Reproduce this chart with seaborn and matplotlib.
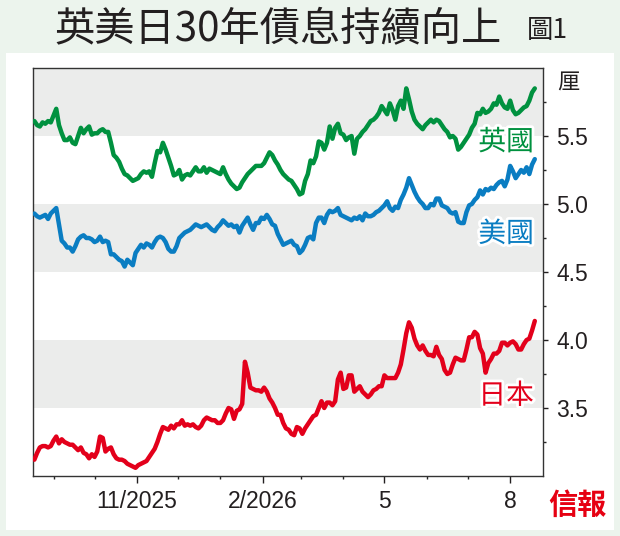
import matplotlib
matplotlib.use("Agg")
import matplotlib.pyplot as plt
import matplotlib.dates as mdates
import matplotlib.patheffects as pe
from matplotlib.patches import Rectangle
import seaborn as sns
import pandas as pd

# 30年期國債孳息 (厘), 每兩日一點, 2025-08-18 起
start_date = "2025-08-18"
uk_yield = [
    5.61, 5.58, 5.57, 5.60, 5.59, 5.61, 5.60, 5.65, 5.70, 5.58,
    5.52, 5.47, 5.47, 5.49, 5.45, 5.44, 5.50, 5.56, 5.52, 5.55,
    5.57, 5.51, 5.52, 5.52, 5.54, 5.55, 5.53, 5.53, 5.45, 5.36,
    5.34, 5.31, 5.26, 5.22, 5.21, 5.19, 5.17, 5.18, 5.19, 5.22,
    5.24, 5.23, 5.24, 5.20, 5.30, 5.39, 5.38, 5.45, 5.40, 5.34,
    5.28, 5.21, 5.22, 5.25, 5.18, 5.21, 5.22, 5.21, 5.24, 5.27,
    5.24, 5.24, 5.27, 5.23, 5.26, 5.25, 5.24, 5.23, 5.22, 5.27,
    5.22, 5.18, 5.15, 5.13, 5.11, 5.12, 5.16, 5.19, 5.22, 5.24,
    5.26, 5.28, 5.28, 5.28, 5.30, 5.34, 5.38, 5.36, 5.32, 5.29,
    5.25, 5.22, 5.20, 5.18, 5.17, 5.14, 5.11, 5.07, 5.08, 5.17,
    5.22, 5.32, 5.30, 5.35, 5.46, 5.45, 5.40, 5.45, 5.57, 5.48,
    5.56, 5.59, 5.52, 5.51, 5.47, 5.49, 5.50, 5.37, 5.48, 5.50,
    5.53, 5.55, 5.58, 5.61, 5.62, 5.64, 5.67, 5.72, 5.69, 5.66,
    5.74, 5.69, 5.62, 5.72, 5.76, 5.70, 5.85, 5.77, 5.68, 5.62,
    5.59, 5.57, 5.55, 5.58, 5.60, 5.62, 5.60, 5.62, 5.61, 5.58,
    5.55, 5.53, 5.49, 5.50, 5.48, 5.40, 5.42, 5.45, 5.48, 5.51,
    5.56, 5.59, 5.67, 5.66, 5.70, 5.67, 5.68, 5.70, 5.74, 5.73,
    5.79, 5.74, 5.71, 5.70, 5.76, 5.69, 5.66, 5.67, 5.69, 5.71,
    5.72, 5.76, 5.82, 5.85,
]
us_yield = [
    4.93, 4.91, 4.90, 4.91, 4.92, 4.89, 4.93, 4.95, 4.97, 4.85,
    4.73, 4.71, 4.68, 4.68, 4.65, 4.69, 4.74, 4.76, 4.77, 4.75,
    4.75, 4.74, 4.72, 4.73, 4.76, 4.72, 4.73, 4.72, 4.63, 4.63,
    4.61, 4.59, 4.58, 4.54, 4.59, 4.57, 4.55, 4.64, 4.67, 4.70,
    4.68, 4.71, 4.70, 4.68, 4.72, 4.75, 4.76, 4.75, 4.72, 4.67,
    4.65, 4.65, 4.69, 4.75, 4.77, 4.79, 4.80, 4.81, 4.83, 4.85,
    4.84, 4.83, 4.84, 4.85, 4.83, 4.81, 4.80, 4.83, 4.85, 4.88,
    4.86, 4.84, 4.85, 4.83, 4.84, 4.79, 4.84, 4.87, 4.90, 4.85,
    4.81, 4.86, 4.86, 4.90, 4.89, 4.92, 4.89, 4.85, 4.84, 4.78,
    4.74, 4.70, 4.71, 4.72, 4.73, 4.70, 4.69, 4.64, 4.66, 4.70,
    4.75, 4.76, 4.74, 4.86, 4.90, 4.90, 4.86, 4.92, 4.95, 4.94,
    4.95, 4.97, 4.92, 4.91, 4.90, 4.89, 4.88, 4.90, 4.89, 4.91,
    4.88, 4.93, 4.91, 4.91, 4.92, 4.94, 4.95, 4.97, 4.99, 5.02,
    4.97, 4.95, 4.98, 4.97, 5.03, 5.07, 5.12, 5.19, 5.14, 5.09,
    5.05, 5.02, 5.00, 4.97, 4.97, 5.00, 4.99, 5.04, 5.04, 4.99,
    4.98, 4.97, 4.94, 4.93, 4.94, 4.87, 4.86, 4.86, 4.94, 4.99,
    5.00, 5.03, 5.05, 5.10, 5.07, 5.11, 5.10, 5.12, 5.11, 5.14,
    5.16, 5.17, 5.13, 5.18, 5.28, 5.24, 5.19, 5.22, 5.25, 5.23,
    5.27, 5.22, 5.29, 5.33,
]
jp_yield = [
    3.12, 3.17, 3.21, 3.22, 3.22, 3.21, 3.22, 3.26, 3.29, 3.24,
    3.27, 3.25, 3.24, 3.23, 3.23, 3.21, 3.19, 3.21, 3.17, 3.16,
    3.13, 3.16, 3.14, 3.18, 3.29, 3.28, 3.18, 3.20, 3.21, 3.16,
    3.13, 3.12, 3.12, 3.11, 3.09, 3.08, 3.07, 3.06, 3.08, 3.09,
    3.10, 3.11, 3.14, 3.17, 3.20, 3.25, 3.31, 3.36, 3.35, 3.34,
    3.37, 3.35, 3.38, 3.38, 3.41, 3.37, 3.38, 3.37, 3.38, 3.36,
    3.35, 3.37, 3.41, 3.43, 3.42, 3.41, 3.41, 3.39, 3.39, 3.41,
    3.46, 3.50, 3.49, 3.42, 3.48, 3.49, 3.53, 3.84, 3.76, 3.65,
    3.64, 3.63, 3.63, 3.62, 3.65, 3.62, 3.57, 3.54, 3.50, 3.45,
    3.45, 3.39, 3.35, 3.34, 3.31, 3.30, 3.36, 3.35, 3.31, 3.35,
    3.38, 3.41, 3.44, 3.45, 3.50, 3.55, 3.50, 3.54, 3.54, 3.52,
    3.55, 3.71, 3.76, 3.64, 3.65, 3.74, 3.74, 3.62, 3.64, 3.66,
    3.62, 3.60, 3.58, 3.60, 3.63, 3.64, 3.66, 3.66, 3.74, 3.72,
    3.72, 3.72, 3.72, 3.76, 3.82, 3.93, 4.05, 4.13, 4.09, 4.01,
    3.96, 3.93, 3.96, 3.92, 3.89, 3.89, 3.88, 3.95, 3.89, 3.86,
    3.78, 3.75, 3.76, 3.82, 3.87, 3.86, 3.85, 3.85, 3.93, 4.02,
    4.02, 4.06, 4.04, 3.94, 3.90, 3.76, 3.83, 3.86, 3.90, 3.90,
    3.92, 3.98, 3.98, 3.96, 3.98, 3.99, 3.97, 3.93, 3.93, 3.97,
    4.00, 4.01, 4.07, 4.14,
]

countries = ["英國", "美國", "日本"]
colors = {"英國": "#00913f", "美國": "#0a7dc2", "日本": "#e3001b"}
label_pos = [("2026-07-29", 5.455), ("2026-07-29", 4.78), ("2026-07-29", 3.59)]

y_ticks = [3.5, 4.0, 4.5, 5.0, 5.5]
y_minor = [3.25, 3.75, 4.25, 4.75, 5.25, 5.75]
bands = [(3.5, 4.0), (4.5, 5.0), (5.5, 6.0)]
x_tick_dates = ["2025-11-01", "2026-02-01", "2026-05-01", "2026-08-01"]
x_tick_labels = ["11/2025", "2/2026", "5", "8"]

dates = pd.date_range(start_date, periods=len(uk_yield), freq="2D")
df = pd.concat([
    pd.DataFrame({"date": dates, "yield": vals, "country": c})
    for c, vals in zip(countries, [uk_yield, us_yield, jp_yield])
])

sns.set_theme(style="white")
cjk = ["Noto Sans CJK TC", "DejaVu Sans"]
plt.rcParams["font.family"] = ["Liberation Sans", "DejaVu Sans"]
dark = "#231f20"

fig = plt.figure(figsize=(6.2, 5.36), dpi=100, facecolor="#ecf4ed")
fig.patches.append(Rectangle((6 / 620, 1 - 530 / 536), 608 / 620, 477 / 536,
                             transform=fig.transFigure, facecolor="white",
                             edgecolor="none", zorder=-5))
ax = fig.add_axes([33 / 620, 1 - 476 / 536, 510 / 620, 408 / 536])
ax.set_facecolor("white")

for lo, hi in bands:
    ax.axhspan(lo, hi, color="#ebeceb", zorder=0, lw=0)

sns.lineplot(data=df, x="date", y="yield", hue="country", palette=colors,
             linewidth=3.2, legend=False, ax=ax, zorder=3)

ax.set_xlim(pd.Timestamp("2025-08-17"), pd.Timestamp("2026-08-25"))
ax.set_ylim(3.0, 6.0)
ax.set_xlabel("")
ax.set_ylabel("")

ax.set_xticks(pd.to_datetime(x_tick_dates))
ax.set_xticklabels(x_tick_labels)
ax.xaxis.set_minor_locator(mdates.MonthLocator())
ax.yaxis.tick_right()
ax.set_yticks(y_ticks)
ax.set_yticklabels([f"{v:.1f}" for v in y_ticks])
ax.set_yticks(y_minor, minor=True)

ax.tick_params(axis="x", which="major", direction="out", length=5, width=1,
               pad=5, labelsize=16.5, colors=dark, bottom=True)
ax.tick_params(axis="x", which="minor", direction="out", length=2.2, width=1,
               bottom=True)
ax.tick_params(axis="y", which="major", direction="out", length=3.5, width=1,
               pad=6, labelsize=16.5, colors=dark, right=True, left=False)
ax.tick_params(axis="y", which="minor", direction="out", length=2.2, width=1,
               right=True, left=False)
for s in ax.spines.values():
    s.set_visible(True)
    s.set_color("#333333")
    s.set_linewidth(1.0)

for c, (d, y) in zip(countries, label_pos):
    ax.text(pd.Timestamp(d), y, c, color=colors[c], fontsize=20,
            family=cjk, ha="center", va="center", zorder=5,
            path_effects=[pe.withStroke(linewidth=4, foreground="white")])

fig.text(568 / 620, 1 - 83 / 536, "厘", family=cjk, fontsize=16,
         color=dark, ha="center", va="center")
fig.text(278 / 620, 1 - 30 / 536, "英美日30年債息持續向上", family=cjk,
         fontsize=29, color=dark, ha="center", va="center")
fig.text(547 / 620, 1 - 31 / 536, "圖1", family=cjk, fontsize=19,
         color=dark, ha="center", va="center")
fig.text(577 / 620, 1 - 505 / 536, "信報", family=cjk, fontsize=21,
         fontweight="black", color="#e60012", ha="center", va="center")

fig.savefig("out.png", dpi=100, facecolor=fig.get_facecolor())
